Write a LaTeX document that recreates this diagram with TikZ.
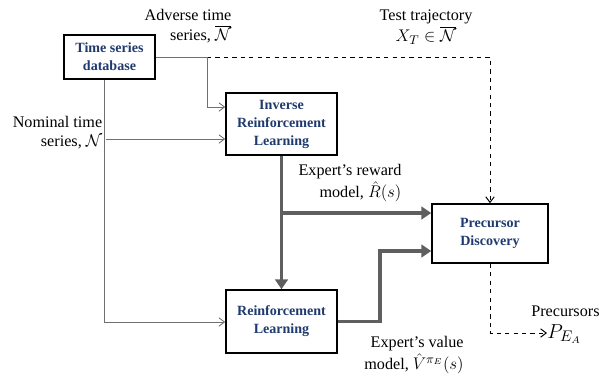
\documentclass[tikz,border=0pt]{standalone}
\usepackage{amsmath,amssymb}
\usepackage{fontspec}
\setmainfont{Liberation Serif}
\usetikzlibrary{arrows.meta}
\definecolor{boxblue}{HTML}{1F3A6E}
\definecolor{linegray}{HTML}{707070}
\definecolor{thickgray}{HTML}{5F5F5F}
\newcommand{\lblmath}[1]{{\fontsize{13}{13}\selectfont$#1$}}
\tikzset{
  blk/.style={draw=black, line width=1.1pt, inner sep=0pt, align=center,
    text=boxblue, font=\fontsize{10}{12.8}\selectfont\bfseries},
  lbl/.style={inner sep=0pt, font=\fontsize{11.5}{13}\selectfont},
  thin line/.style={draw=linegray, line width=0.6pt, -{Straight Barb[length=4pt,width=6pt]}},
  dash line/.style={draw=black, line width=0.7pt, dashed, -{Straight Barb[length=4pt,width=6pt]}},
  fat line/.style={draw=thickgray, line width=2.6pt, -{Triangle[length=7pt,width=9pt]}}
}

\begin{document}
\begin{tikzpicture}[x=0.025cm, y=-0.025cm]
    \useasboundingbox (0,0) rectangle (599,378);

    \draw 
    (109.5,57) node[blk, minimum width=2.275cm, minimum height=1.1cm](db){Time series\\database}
    (281.5,124) node[blk, minimum width=2.775cm, minimum height=1.55cm](irl){Inverse\\Reinforcement\\Learning}
    (281.5,321.5) node[blk, minimum width=2.775cm, minimum height=1.575cm](rl){Reinforcement\\Learning}
    (490,233.5) node[blk, minimum width=2.9cm, minimum height=1.475cm](pd){Precursor\\Discovery};

    \node[lbl, align=right] (adv) at (188,26) {Adverse time\\[1pt]series, \lblmath{\overline{\mathcal{N}}}};
    \node[lbl, align=right] (nomlbl) at (57.5,132.5) {Nominal time\\[1pt]series, \lblmath{\mathcal{N}}};
    \node[lbl, align=center] (test) at (426,27) {Test trajectory\\[1pt]\lblmath{X_T\in\overline{\mathcal{N}}}};
    \node[lbl, align=right] (rew) at (350,183) {Expert's reward\\[1pt]model, \lblmath{\hat{R}(s)}};
    \node[lbl, align=right] (val) at (414,355) {Expert's value\\[1pt]model, \lblmath{\hat{V}^{\pi_E}(s)}};
    \node[lbl, anchor=west] (prec) at (531,311) {Precursors};
    \node[lbl, anchor=west, font=\fontsize{15}{15}\selectfont] (pea) at (547,334) {$P_{E_A}$};

    \coordinate (s) at (207,57);
    \coordinate (a) at (207,107);
    \coordinate (n) at (106,139);
    \coordinate (c) at (104,322);
    \coordinate (b) at (282,213);
    \coordinate (v) at (380,251);
    \coordinate (o) at (489,333);

    \draw[draw=linegray, line width=0.6pt] (db.east |- s) -- (s);
    \draw[dash line] (s) -- (s -| pd.north) -- (pd.north);
    \draw[thin line] (s) -- (a) -- (a -| irl.west);
    \draw[thin line] (n) -- (n -| irl.west);
    \draw[thin line] (db.south -| c) -- (c) -- (c -| rl.west);

    \draw[fat line] (irl.south) -- (rl.north);
    \draw[fat line] (b) -- (b -| pd.west);
    \draw[fat line] (rl.east) -- (rl.east -| v) -- (v) -- (v -| pd.west);

    \draw[dash line] (pd.south) -- (pd.south |- o) -- (o -| pea.west);

  \end{tikzpicture}
\end{document}
